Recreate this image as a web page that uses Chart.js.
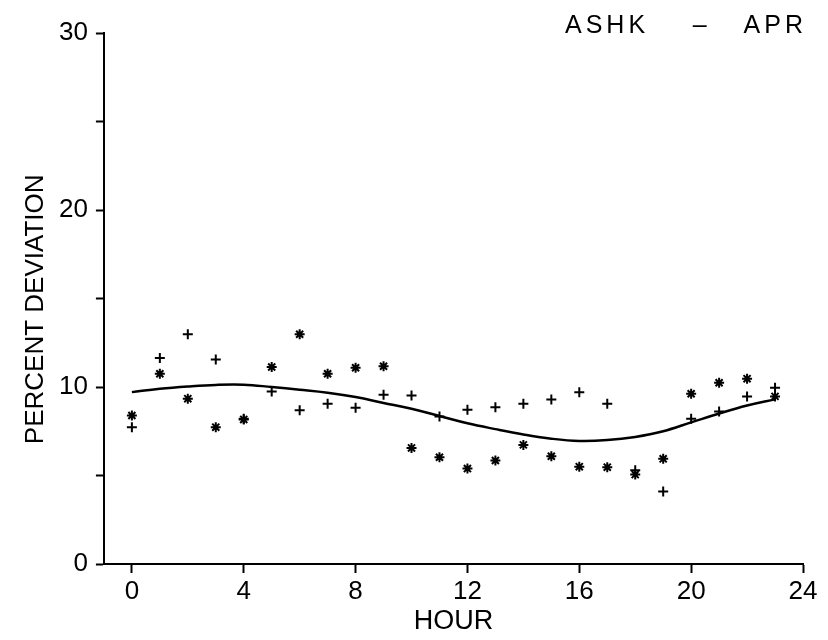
<!DOCTYPE html>
<html>
<head>
<meta charset="utf-8">
<script src="https://cdn.jsdelivr.net/npm/chart.js@4.4.1/dist/chart.umd.min.js"></script>
<style>
  body { margin: 0; background: #fff; }
  #wrap { width: 828px; height: 640px; }
</style>
</head>
<body>
<div id="wrap"><canvas id="chart" width="828" height="640"></canvas></div>
<script>
const hours = [0, 1, 2, 3, 4, 5, 6, 7, 8, 9, 10, 11, 12, 13, 14, 15, 16, 17, 18, 19, 20, 21, 22, 23];
const plusValues = [7.73, 11.64, 12.98, 11.56, 8.2, 9.75, 8.68, 9.05, 8.83, 9.56, 9.52, 8.34,
  8.71, 8.86, 9.05, 9.3, 9.71, 9.05, 5.3, 4.1, 8.2, 8.62, 9.47, 9.96];
const starValues = [8.39, 10.75, 9.34, 7.73, 8.17, 11.13, 12.98, 10.75, 11.09, 11.17, 6.56, 6.03,
  5.39, 5.85, 6.73, 6.09, 5.5, 5.47, 5.05, 5.94, 9.62, 10.24, 10.47, 9.47];
const fitValues = [9.71, 9.9, 10.03, 10.12, 10.13, 10.0, 9.85, 9.68, 9.43, 9.1, 8.77, 8.36,
  7.95, 7.62, 7.32, 7.08, 6.95, 7.0, 7.18, 7.5, 8.0, 8.5, 8.95, 9.3];
const xTicks = [0, 4, 8, 12, 16, 20, 24];
const yTicks = [0, 5, 10, 15, 20, 25, 30];
const yLabelled = [0, 10, 20, 30];
const chartTitle = 'ASHK    \u2013   APR';

const FONT = "'Liberation Sans', Arial, sans-serif";
const toPoints = (vals) => hours.map((h, i) => ({ x: h, y: vals[i] }));

// title sits top right, flush with the plot's right edge
const cornerTitle = {
  id: 'cornerTitle',
  afterDraw(chart) {
    const { ctx, chartArea } = chart;
    ctx.save();
    ctx.font = '25px ' + FONT;
    ctx.letterSpacing = '4px';
    ctx.fillStyle = '#000';
    ctx.textAlign = 'right';
    ctx.textBaseline = 'middle';
    ctx.fillText(chartTitle, chartArea.right + 4, 26);
    ctx.restore();
  }
};

const axisCommon = {
  grid: { drawOnChartArea: false, drawTicks: true, tickColor: '#000', tickWidth: 2 },
  border: { display: true, color: '#000', width: 2 }
};

new Chart(document.getElementById('chart'), {
  type: 'scatter',
  data: {
    datasets: [
      {
        type: 'line',
        data: toPoints(fitValues),
        borderColor: '#000',
        borderWidth: 2.5,
        pointRadius: 0,
        tension: 0.4,
        fill: false
      },
      {
        data: toPoints(plusValues),
        pointStyle: 'cross',
        pointRadius: 5,
        borderColor: '#000',
        borderWidth: 2
      },
      {
        data: toPoints(starValues),
        pointStyle: 'star',
        pointRadius: 5,
        borderColor: '#000',
        borderWidth: 2
      }
    ]
  },
  options: {
    responsive: false,
    animation: false,
    layout: { padding: { left: 10, right: 25, top: 33, bottom: 2 } },
    plugins: { legend: { display: false }, tooltip: { enabled: false }, title: { display: false } },
    scales: {
      x: {
        type: 'linear',
        min: -1,
        max: 24,
        afterBuildTicks: (axis) => { axis.ticks = xTicks.map(v => ({ value: v })); },
        ...axisCommon,
        grid: { ...axisCommon.grid, tickLength: 9 },
        ticks: { color: '#000', font: { family: FONT, size: 26, lineHeight: 1 }, padding: 6, maxRotation: 0 },
        title: { display: true, text: 'HOUR', color: '#000', font: { family: FONT, size: 27, lineHeight: 1 }, padding: { top: -3, bottom: 3 } }
      },
      y: {
        type: 'linear',
        min: 0,
        max: 30,
        afterBuildTicks: (axis) => { axis.ticks = yTicks.map(v => ({ value: v })); },
        ...axisCommon,
        grid: { ...axisCommon.grid, tickLength: 8 },
        ticks: {
          color: '#000',
          font: { family: FONT, size: 26, lineHeight: 1 },
          padding: 8,
          callback: (v) => yLabelled.includes(v) ? String(v) : ''
        },
        title: { display: true, text: 'PERCENT DEVIATION   ', color: '#000', font: { family: FONT, size: 26, lineHeight: 1 }, padding: { top: 13, bottom: 2 } }
      }
    }
  },
  plugins: [cornerTitle]
});
</script>
</body>
</html>
